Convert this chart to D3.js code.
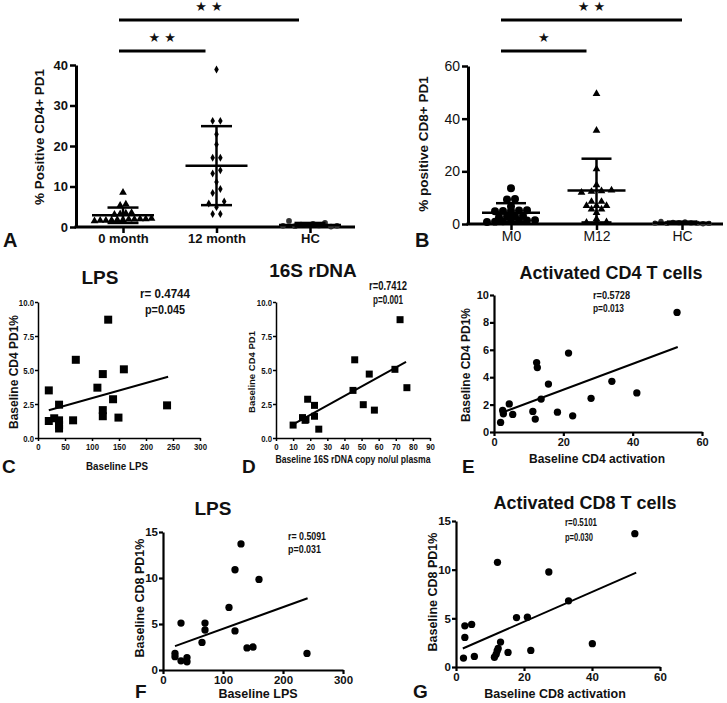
<!DOCTYPE html>
<html><head><meta charset="utf-8">
<script src="https://cdn.jsdelivr.net/npm/d3@7"></script>
<style>body{margin:0;background:#fff}svg{display:block}text{fill:#111}</style>
</head><body><svg id="c" width="727" height="703"></svg>
<script>
// ===== Panel A : % Positive CD4+ PD1 =====
const catsA = ["0 month", "12 month", "HC"];
const aMonth0 = [8.5, 5.3, 5.6, 3.1, 3.2, 3.4, 3.5, 1.5, 1.6, 1.6, 1.7, 1.8, 1.8, 1.9, 1.9, 2.0, 2.0, 2.1];
const aMonth12 = [38.9, 26.2, 26.2, 22.9, 20.4, 17.1, 17.1, 13.2, 14.0, 11.1, 8.4, 9.4, 5.8, 4.9, 6.3, 3.2, 3.2];
const aHC = [0.3, 1.5, 0.2, 0.6, 0.5, 0.8, 0.4, 1.0, 0.1, 0.3];
const meanA = [2.9, 15.1, 0.5];
const sdLowA = [1.0, 5.4, 0.1];
const sdHighA = [4.8, 24.9, 1.0];
const ticksA = [0, 10, 20, 30, 40];
const sigA = [["0 month", "12 month", "★ ★"], ["0 month", "HC", "★ ★"]];

// ===== Panel B : % positive CD8+ PD1 =====
const catsB = ["M0", "M12", "HC"];
const bM0 = [13.6, 9.3, 9.5, 6.7, 4.8, 4.9, 5.0, 5.1, 5.2, 2.6, 2.8, 2.9, 3.0, 0.8, 0.9, 1.0, 1.1, 1.2, 1.3, 1.4];
const bM12 = [49.5, 35.5, 20.9, 14.8, 12.0, 12.3, 12.5, 12.8, 8.5, 8.5, 6.9, 6.9, 6.9, 5.6, 5.6, 4.3, 1.9, 0.6, 0.7, 0.8];
const bHC = [0.3, 1.0, 0.2, 0.6, 0.5, 0.8, 0.4, 0.3, 0.1, 0.2];
const meanB = [4.3, 12.7, 0.5];
const sdLowB = [0.7, 0.6, 0.1];
const sdHighB = [7.9, 24.8, 0.9];
const ticksB = [0, 20, 40, 60];
const sigB = [["M0", "M12", "★"], ["M0", "HC", "★ ★"]];

// ===== Panel C : LPS vs baseline CD4 PD1% =====
const cLPS = [20, 20, 30, 39, 39, 39, 39, 65, 70, 110, 120, 120, 120, 130, 139, 149, 159, 239];
const cCD4 = [3.5, 1.25, 1.45, 2.45, 1.3, 0.95, 0.7, 1.3, 5.75, 3.7, 4.7, 2.05, 1.6, 8.7, 2.85, 1.5, 5.05, 2.4];
const fitC = [[20, 2.04], [241, 4.5]];
const statC = ["r= 0.4744", "p=0.045"];
const xTicksC = [0, 50, 100, 150, 200, 250, 300];
const yTicksCD = [0, 2.5, 5, 7.5, 10];

// ===== Panel D : 16S rDNA vs baseline CD4 PD1 =====
const d16S = [10, 15.5, 17, 17.5, 18.5, 22.5, 22.5, 25, 45, 46, 51, 54.5, 57.5, 69.5, 72.5, 76.5];
const dCD4 = [0.95, 1.5, 1.3, 1.35, 2.85, 2.4, 1.6, 0.65, 3.5, 5.75, 2.45, 4.7, 2.05, 5.05, 8.7, 3.7];
const fitD = [[10, 1.0], [76, 5.6]];
const statD = ["r=0.7412", "p=0.001"];
const xTicksD = [0, 10, 20, 30, 40, 50, 60, 70, 80, 90];

// ===== Panel E : CD4 activation vs baseline CD4 PD1% =====
const eAct = [52.8, 21.5, 12.3, 12.5, 34, 15.7, 41.2, 13.6, 28, 4.4, 2.5, 2.7, 11.2, 18.3, 5.4, 22.7, 11.9, 1.9];
const eCD4 = [8.73, 5.76, 5.07, 4.7, 3.7, 3.5, 2.85, 2.4, 2.46, 2.05, 1.57, 1.33, 1.5, 1.45, 1.28, 1.18, 0.94, 0.7];
const fitE = [[2, 1.39], [53, 6.2]];
const statE = ["r=0.5728", "p=0.013"];
const xTicksEG = [0, 20, 40, 60];
const yTicksE = [0, 2, 4, 6, 8, 10];

// ===== Panel F : LPS vs baseline CD8 PD1% =====
const fLPS = [20, 20, 30, 30, 40, 40, 65, 70, 70, 110, 120, 120, 130, 140, 150, 160, 240];
const fCD8 = [1.8, 1.45, 5.1, 1.0, 1.35, 0.9, 3.0, 5.1, 4.35, 6.8, 10.9, 4.25, 13.7, 2.4, 2.5, 9.85, 1.8];
const fitF = [[20, 2.6], [241, 7.8]];
const statF = ["r= 0.5091", "p=0.031"];
const xTicksF = [0, 100, 200, 300];
const yTicksFG = [0, 5, 10, 15];

// ===== Panel G : CD8 activation vs baseline CD8 PD1% =====
const gAct = [2.2, 2.6, 2.6, 4.6, 5.4, 11.3, 11.8, 12.1, 12.4, 12.2, 13.1, 15.3, 17.8, 21, 22, 27.3, 33.1, 40.1, 52.6];
const gCD8 = [0.92, 4.23, 3.04, 4.37, 1.09, 1.0, 1.3, 1.65, 1.9, 10.75, 2.56, 1.5, 5.08, 5.12, 1.7, 9.76, 6.8, 2.4, 13.7];
const fitG = [[2, 1.9], [53, 9.7]];
const statG = ["r=0.5101", "p=0.030"];

// ------------------------------------------------------------------
const svg = d3.select("#c");
svg.append("rect").attr("width", 727).attr("height", 703).attr("fill", "#fff");
const ARIAL = "'Liberation Sans', Arial, sans-serif";

function swarm(vals, y, cx, step, tol) {
  const idx = vals.map((v, i) => i).sort((a, b) => vals[a] - vals[b] || a - b);
  const rows = []; let cur = null;
  idx.forEach(i => {
    const py = y(vals[i]);
    if (!cur || Math.abs(py - cur.y0) > tol) { cur = {y0: py, items: []}; rows.push(cur); }
    cur.items.push(i);
  });
  const out = [];
  rows.forEach(r => {
    r.items.sort((a, b) => a - b);
    const n = r.items.length;
    r.items.forEach((i, k) => out.push({x: cx + (k - (n - 1) / 2) * step, y: y(vals[i])}));
  });
  return out;
}

function dotPanel(cfg) {
  const g = svg.append("g");
  const x = d3.scalePoint().domain(cfg.cats).range(cfg.xr);
  const y = d3.scaleLinear().domain(cfg.yd).range(cfg.yr);
  const ya = g.append("g").attr("transform", `translate(${cfg.ax0},0)`)
    .call(d3.axisLeft(y).tickValues(cfg.ticks).tickSize(6).tickSizeOuter(0).tickPadding(2));
  ya.select(".domain").attr("stroke", "#000").attr("stroke-width", 3);
  ya.selectAll(".tick line").attr("stroke", "#000").attr("stroke-width", 2.5);
  ya.selectAll(".tick text").attr("font-family", ARIAL).attr("font-size", cfg.tickFs)
    .attr("font-weight", cfg.tickFw).attr("fill", "#111");
  const xa = g.append("g").attr("transform", `translate(0,${cfg.yr[0]})`)
    .call(d3.axisBottom(x).tickSize(6).tickSizeOuter(0).tickPadding(3));
  xa.select(".domain").remove();
  xa.selectAll(".tick line").attr("stroke", "#000").attr("stroke-width", 2.5);
  xa.selectAll(".tick text").attr("font-family", ARIAL).attr("font-size", cfg.catFs)
    .attr("font-weight", cfg.catFw).attr("fill", "#111").attr("dy", "0.55em");
  g.append("line").attr("x1", cfg.ax0 - 1.5).attr("x2", cfg.ax1).attr("y1", cfg.yr[0]).attr("y2", cfg.yr[0])
    .attr("stroke", "#000").attr("stroke-width", 3);
  cfg.groups.forEach((vals, gi) => {
    const pts = swarm(vals, y, x(cfg.cats[gi]), cfg.steps[gi], cfg.tol);
    const sym = d3.symbol().type(cfg.shapes[gi]).size(cfg.sizes[gi]);
    g.selectAll(null).data(pts).join("path").attr("d", sym)
      .attr("transform", d => `translate(${d.x},${d.y})`).attr("fill", cfg.fills[gi]);
  });
  cfg.cats.forEach((c, i) => {
    const cx = x(c);
    g.append("line").attr("x1", cx - cfg.mw).attr("x2", cx + cfg.mw)
      .attr("y1", y(cfg.mean[i])).attr("y2", y(cfg.mean[i])).attr("stroke", "#000").attr("stroke-width", 2.5);
    g.append("line").attr("x1", cx).attr("x2", cx).attr("y1", y(cfg.lo[i])).attr("y2", y(cfg.hi[i]))
      .attr("stroke", "#000").attr("stroke-width", 2.5);
    [cfg.lo[i], cfg.hi[i]].forEach(v => g.append("line").attr("x1", cx - cfg.cw).attr("x2", cx + cfg.cw)
      .attr("y1", y(v)).attr("y2", y(v)).attr("stroke", "#000").attr("stroke-width", 2.5));
  });
  cfg.sig.forEach((s, i) => {
    const by = cfg.sigY[i];
    const x1 = x(s[0]) + cfg.sigOff[i][0], x2 = x(s[1]) + cfg.sigOff[i][1];
    g.append("line").attr("x1", x1).attr("x2", x2).attr("y1", by).attr("y2", by)
      .attr("stroke", "#000").attr("stroke-width", 3);
    g.append("text").attr("x", (x1 + x2) / 2).attr("y", by - 9).attr("text-anchor", "middle")
      .attr("font-family", "'DejaVu Sans', sans-serif").attr("font-size", 13).text(s[2]);
  });
  g.append("text").attr("transform", `translate(${cfg.ylab[0]},${cfg.ylab[1]}) rotate(-90)`)
    .attr("text-anchor", "middle").attr("dy", "0.35em").attr("font-family", ARIAL)
    .attr("font-weight", "bold").attr("font-size", 13.5).text(cfg.ylabel);
  g.append("text").attr("x", cfg.letter[0]).attr("y", cfg.letter[1]).attr("font-family", ARIAL)
    .attr("font-size", 20).attr("font-weight", "bold").text(cfg.letterText);
}

dotPanel({cats: catsA, xr: [123, 310], yd: [0, 40], yr: [227, 65], ax0: 76, ax1: 355, ticks: ticksA,
  tickFs: 13, tickFw: "bold", catFs: 13, catFw: "bold",
  groups: [aMonth0, aMonth12, aHC], steps: [5.7, 7.7, 6], tol: 6,
  shapes: [d3.symbolTriangle, d3.symbolDiamond, d3.symbolCircle], sizes: [26, 18, 26], fills: ["#000", "#000", "#333"],
  mean: meanA, lo: sdLowA, hi: sdHighA, mw: 31, cw: 15.5,
  sig: sigA, sigY: [51, 20], sigOff: [[-4, -11], [-4, -11]],
  ylab: [39, 137], ylabel: "% Positive CD4+ PD1", letter: [3, 247], letterText: "A"});

dotPanel({cats: catsB, xr: [511, 682], yd: [0, 60], yr: [224, 66], ax0: 468, ax1: 723, ticks: ticksB,
  tickFs: 14, tickFw: "normal", catFs: 14, catFw: "normal",
  groups: [bM0, bM12, bHC], steps: [8, 10, 6], tol: 3,
  shapes: [d3.symbolCircle, d3.symbolTriangle, d3.symbolCircle], sizes: [50, 26, 22], fills: ["#000", "#000", "#333"],
  mean: meanB, lo: sdLowB, hi: sdHighB, mw: 29, cw: 15,
  sig: sigB, sigY: [51, 20], sigOff: [[-10, -10], [-10, 0]],
  ylab: [423, 144], ylabel: "% positive CD8+ PD1", letter: [415, 247], letterText: "B"});

function fitText(sel, w) {
  if (w) sel.attr("textLength", w).attr("lengthAdjust", "spacingAndGlyphs");
  return sel;
}

function scatterPanel(cfg) {
  const g = svg.append("g");
  const x = d3.scaleLinear().domain(cfg.xd).range(cfg.xr);
  const y = d3.scaleLinear().domain(cfg.yd).range(cfg.yr);
  const ya = g.append("g").attr("transform", `translate(${cfg.xr[0]},0)`)
    .call(d3.axisLeft(y).tickValues(cfg.yt).tickFormat(cfg.yfmt).tickSize(cfg.tk).tickSizeOuter(0).tickPadding(1));
  const xa = g.append("g").attr("transform", `translate(0,${cfg.yr[0]})`)
    .call(d3.axisBottom(x).tickValues(cfg.xt).tickFormat(d3.format("d")).tickSize(cfg.tk).tickSizeOuter(0).tickPadding(2));
  [ya, xa].forEach(a => {
    a.select(".domain").attr("stroke", "#000").attr("stroke-width", cfg.aw);
    a.selectAll(".tick line").attr("stroke", "#000").attr("stroke-width", cfg.aw);
    a.selectAll(".tick text").attr("font-family", ARIAL).attr("font-size", cfg.tickFs)
      .attr("font-weight", "bold").attr("fill", "#111");
  });
  if (cfg.narrowTicks) {
    [ya, xa].forEach(a => a.selectAll(".tick text").each(function () {
      const t = d3.select(this); const w = this.getComputedTextLength();
      t.attr("textLength", w * 0.82).attr("lengthAdjust", "spacingAndGlyphs");
    }));
  }
  const sym = d3.symbol().type(cfg.shape).size(cfg.size);
  g.selectAll(null).data(cfg.xs.map((v, i) => [v, cfg.ys[i]])).join("path").attr("d", sym)
    .attr("transform", d => `translate(${x(d[0])},${y(d[1])})`).attr("fill", "#000");
  g.append("line").attr("x1", x(cfg.fit[0][0])).attr("y1", y(cfg.fit[0][1]))
    .attr("x2", x(cfg.fit[1][0])).attr("y2", y(cfg.fit[1][1])).attr("stroke", "#000").attr("stroke-width", 2);
  g.append("text").attr("x", cfg.title[0]).attr("y", cfg.title[1]).attr("dy", "0.35em")
    .attr("text-anchor", "middle").attr("font-family", ARIAL).attr("font-weight", "bold")
    .attr("font-size", cfg.titleFs).text(cfg.titleText);
  cfg.stat.forEach((s, i) => fitText(g.append("text").attr("x", cfg.statPos[0]).attr("y", cfg.statPos[1] + i * cfg.statGap)
    .attr("dy", "0.35em").attr("text-anchor", cfg.statAnchor).attr("font-family", ARIAL)
    .attr("font-weight", "bold").attr("font-size", cfg.statFs).text(s), cfg.statW[i]));
  g.append("text").attr("transform", `translate(${cfg.ylab[0]},${cfg.ylab[1]}) rotate(-90)`)
    .attr("text-anchor", "middle").attr("dy", "0.35em").attr("font-family", ARIAL)
    .attr("font-weight", "bold").attr("font-size", cfg.ylabFs).text(cfg.ylabel);
  fitText(g.append("text").attr("x", cfg.xlab[0]).attr("y", cfg.xlab[1]).attr("dy", "0.35em")
    .attr("text-anchor", "middle").attr("font-family", ARIAL)
    .attr("font-weight", "bold").attr("font-size", cfg.xlabFs).text(cfg.xlabel), cfg.xlabW);
  g.append("text").attr("x", cfg.letter[0]).attr("y", cfg.letter[1]).attr("font-family", ARIAL)
    .attr("font-size", 19).attr("font-weight", "bold").text(cfg.letterText);
}

scatterPanel({xd: [0, 300], xr: [38, 200], yd: [0, 10], yr: [438, 302], xt: xTicksC, yt: yTicksCD,
  yfmt: d3.format(".1f"), tk: 3, aw: 1.5, tickFs: 9.5, narrowTicks: true,
  xs: cLPS, ys: cCD4, shape: d3.symbolSquare, size: 64, fit: fitC,
  title: [100, 277], titleFs: 19, titleText: "LPS", stat: statC, statPos: [165, 293], statGap: 16,
  statAnchor: "middle", statFs: 13, statW: [50, 40],
  ylab: [14, 372], ylabFs: 12, ylabel: "Baseline CD4 PD1%",
  xlab: [117, 466], xlabFs: 11, xlabW: 62, xlabel: "Baseline LPS", letter: [2, 473], letterText: "C"});

scatterPanel({xd: [0, 90], xr: [276, 430], yd: [0, 10], yr: [438, 302], xt: xTicksD, yt: yTicksCD,
  yfmt: d3.format(".1f"), tk: 3, aw: 1.5, tickFs: 9.5, narrowTicks: true,
  xs: d16S, ys: dCD4, shape: d3.symbolSquare, size: 49, fit: fitD,
  title: [313, 270], titleFs: 19, titleText: "16S rDNA", stat: statD, statPos: [388, 286], statGap: 14,
  statAnchor: "middle", statFs: 12, statW: [38, 30],
  ylab: [252, 372], ylabFs: 9.5, ylabel: "Baseline CD4 PD1",
  xlab: [353, 459], xlabFs: 10.5, xlabW: 155, xlabel: "Baseline 16S rDNA copy no/ul plasma", letter: [242, 473], letterText: "D"});

scatterPanel({xd: [0, 60], xr: [494, 702], yd: [0, 10], yr: [432, 295], xt: xTicksEG, yt: yTicksE,
  yfmt: d3.format("d"), tk: 4, aw: 2.2, tickFs: 11,
  xs: eAct, ys: eCD4, shape: d3.symbolCircle, size: 42, fit: fitE,
  title: [611, 273], titleFs: 18, titleText: "Activated CD4 T cells", stat: statE, statPos: [593, 295], statGap: 13,
  statAnchor: "start", statFs: 10, statW: [37, 31],
  ylab: [466, 365], ylabFs: 12, ylabel: "Baseline CD4 PD1%",
  xlab: [597, 459], xlabFs: 12, xlabel: "Baseline CD4 activation", letter: [462, 473], letterText: "E"});

scatterPanel({xd: [0, 300], xr: [163, 343], yd: [0, 15], yr: [670, 532], xt: xTicksF, yt: yTicksFG,
  yfmt: d3.format("d"), tk: 4, aw: 2.2, tickFs: 11.5,
  xs: fLPS, ys: fCD8, shape: d3.symbolCircle, size: 42, fit: fitF,
  title: [213, 508], titleFs: 19, titleText: "LPS", stat: statF, statPos: [288, 536], statGap: 13,
  statAnchor: "start", statFs: 11, statW: [38, 33],
  ylab: [140, 598], ylabFs: 12.5, ylabel: "Baseline CD8 PD1%",
  xlab: [258, 694], xlabFs: 12.5, xlabel: "Baseline LPS", letter: [135, 698], letterText: "F"});

scatterPanel({xd: [0, 60], xr: [456, 660], yd: [0, 15], yr: [667, 521], xt: xTicksEG, yt: yTicksFG,
  yfmt: d3.format("d"), tk: 4, aw: 2.2, tickFs: 11.5,
  xs: gAct, ys: gCD8, shape: d3.symbolCircle, size: 42, fit: fitG,
  title: [585, 503], titleFs: 18, titleText: "Activated CD8 T cells", stat: statG, statPos: [565, 522], statGap: 15,
  statAnchor: "start", statFs: 10, statW: [32, 28],
  ylab: [433, 592], ylabFs: 12.5, ylabel: "Baseline CD8 PD1%",
  xlab: [555, 694], xlabFs: 12.5, xlabel: "Baseline CD8 activation", letter: [413, 698], letterText: "G"});
</script></body></html>
